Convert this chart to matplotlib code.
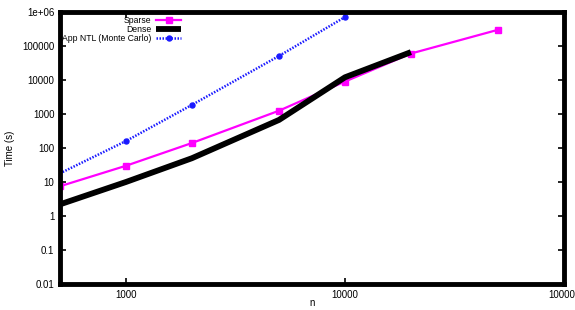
import matplotlib
matplotlib.use("Agg")
import matplotlib.pyplot as plt
from matplotlib.ticker import FixedLocator, FixedFormatter, NullLocator

plt.rcParams['font.family'] = ['Liberation Sans', 'DejaVu Sans']

# ---- data ----
n_sparse = [500, 1000, 2000, 5000, 10000, 20000, 50000]
t_sparse = [7.5, 30, 140, 1250, 9000, 60000, 300000]

n_dense = [500, 1000, 2000, 5000, 10000, 20000]
t_dense = [2.2, 10, 50, 670, 12000, 66000]

n_app = [500, 1000, 2000, 5000, 10000]
t_app = [18, 160, 1850, 51000, 710000]

xticks = [1000, 10000, 100000]
xtick_labels = ["1000", "10000", "100000"]
yticks = [0.01, 0.1, 1, 10, 100, 1000, 10000, 100000, 1e6]
ytick_labels = ["0.01", "0.1", "1", "10", "100", "1000", "10000", "100000", "1e+06"]

labels = ["Sparse", "Dense", "App NTL (Monte Carlo)"]

# ---- figure ----
W, H = 575, 310
fig = plt.figure(figsize=(W / 100, H / 100), dpi=100)
ax = fig.add_axes([60 / W, (H - 284) / H, (564 - 60) / W, (284 - 12) / H])

ax.plot(n_sparse, t_sparse, color='#ff00ff', lw=1.6, marker='s', ms=5,
        label=labels[0], zorder=3)
ax.plot(n_dense, t_dense, color='black', lw=4.2, label=labels[1],
        solid_capstyle='butt', zorder=4)
ax.plot(n_app, t_app, color='#1a1aff', lw=1.8, ls=(0, (0.6, 0.6)),
        marker='o', ms=3.6, markevery=slice(1, None), label=labels[2], zorder=3)

ax.set_xscale('log')
ax.set_yscale('log')
ax.set_xlim(500, 100000)
ax.set_ylim(0.01, 1e6)

ax.xaxis.set_major_locator(FixedLocator(xticks))
ax.xaxis.set_major_formatter(FixedFormatter(xtick_labels))
ax.xaxis.set_minor_locator(NullLocator())
ax.yaxis.set_major_locator(FixedLocator(yticks))
ax.yaxis.set_major_formatter(FixedFormatter(ytick_labels))
ax.yaxis.set_minor_locator(NullLocator())

ax.tick_params(axis='both', which='major', direction='in', length=4, width=1.2,
               labelsize=7, top=True, right=True, pad=4, colors='black')

for s in ax.spines.values():
    s.set_linewidth(3.5)
    s.set_color('black')
    s.set_zorder(5)

ax.set_xlabel('n', fontsize=7)
ax.xaxis.set_label_coords(0.5, -0.05)
ax.set_ylabel('Time (s)', fontsize=7, labelpad=5)

leg = ax.legend(loc='upper left', bbox_to_anchor=(0.0, 0.994), frameon=False,
                markerfirst=False, fontsize=6.2, handlelength=2.9,
                handletextpad=0.55, labelspacing=0.0, borderpad=0.25,
                borderaxespad=0.0)

fig.savefig('out.png', dpi=100)
